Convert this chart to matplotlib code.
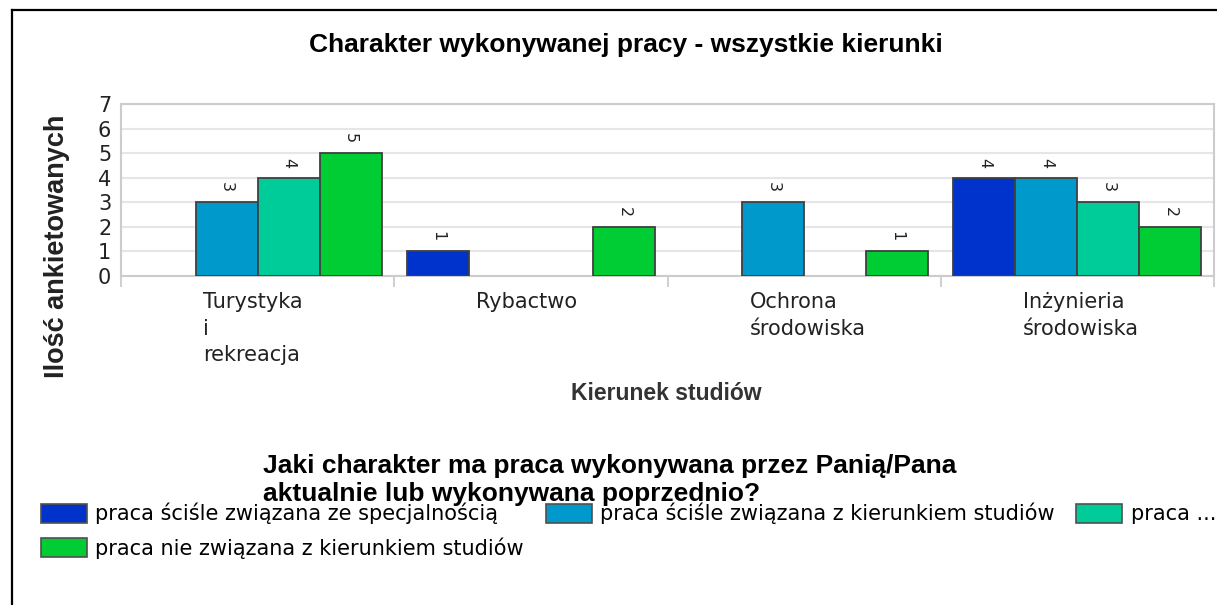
import numpy as np
import matplotlib
matplotlib.use("Agg")
import matplotlib.pyplot as plt
import matplotlib.transforms as mtransforms
from matplotlib.lines import Line2D
from matplotlib.patches import Patch

# ---- data ----
categories = ["Turystyka\ni\nrekreacja", "Rybactwo", "Ochrona\nśrodowiska",
              "Inżynieria\nśrodowiska"]
series_names = ["praca ściśle związana ze specjalnością",
                "praca ściśle związana z kierunkiem studiów",
                "praca ...",
                "praca nie związana z kierunkiem studiów"]
spec_vals = [0, 1, 0, 4]
kier_vals = [3, 0, 3, 4]
other_vals = [4, 0, 0, 3]
nie_vals = [5, 2, 1, 2]
y_ticks = [0, 1, 2, 3, 4, 5, 6, 7]

colors = ["#0033cc", "#0099cc", "#00cc99", "#00cc33"]
W, H = 1217, 605

fig = plt.figure(figsize=(W / 100, H / 100), dpi=100)
ax = fig.add_axes([121 / W, 1 - 276 / H, 1093 / W, 172 / H])

x = np.arange(len(categories))
bw = 0.227
all_vals = [spec_vals, kier_vals, other_vals, nie_vals]
for k, vals in enumerate(all_vals):
    vals = np.array(vals)
    xs = x + (k - 1.5) * bw
    keep = vals > 0   # empty slots get no bar and no label
    ax.bar(xs[keep], vals[keep], width=bw, color=colors[k],
           edgecolor="#404040", linewidth=1.3, zorder=3)
    for xi, v in zip(xs[keep], vals[keep]):
        ax.annotate(str(v), (xi, v), xytext=(0, 15), textcoords="offset pixels",
                    ha="center", va="center", rotation=270, fontsize=11.5,
                    color="#222222")

ax.set_xlim(-0.5, 3.5)
ax.set_ylim(0, 7)
ax.set_yticks(y_ticks)
ax.tick_params(axis="y", length=0, pad=7, labelsize=15, labelcolor="#222222")
ax.set_xticks(np.arange(-0.5, 4, 1.0))
ax.set_xticklabels([])
ax.tick_params(axis="x", length=8, width=1.3, color="#cccccc")
ax.grid(axis="y", color="#e6e6e6", linewidth=1.5, zorder=0)
for sp in ax.spines.values():
    sp.set_color("#cccccc")
    sp.set_linewidth(1.5)

# category labels, left aligned a bit left of the centre
trans = mtransforms.blended_transform_factory(ax.transData, fig.transFigure)
for i, lab in enumerate(categories):
    ax.text(i - 0.2, 1 - 292 / H, lab, transform=trans, ha="left", va="top",
            fontsize=15, color="#222222", linespacing=1.42)

fig.text(626 / W, 1 - 45 / H, "Charakter wykonywanej pracy - wszystkie kierunki",
         ha="center", va="center", fontsize=19, fontweight="bold",
         family="Liberation Sans")
fig.text(57 / W, 1 - 246 / H, "Ilość ankietowanych", rotation=90,
         ha="center", va="center", fontsize=19.5, fontweight="bold",
         family="Liberation Sans", color="#222222")
fig.text(666 / W, 1 - 393 / H, "Kierunek studiów", ha="center", va="center",
         fontsize=16.5, fontweight="bold", family="Liberation Sans",
         color="#333333")
fig.text(263 / W, 1 - 480 / H,
         "Jaki charakter ma praca wykonywana przez Panią/Pana\n"
         "aktualnie lub wykonywana poprzednio?",
         ha="left", va="center", fontsize=19, fontweight="bold",
         family="Liberation Sans", linespacing=1.17)

handles = [Patch(facecolor=c, edgecolor="#505050", linewidth=1.2) for c in colors]
order = [0, 3, 1, 2]   # row-major order: three on the first row, one below
fig.legend([handles[i] for i in order], [series_names[i] for i in order],
           ncol=3, loc="upper left", bbox_to_anchor=(41 / W, 1 - 503 / H),
           frameon=False, fontsize=15, handlelength=2.2, handleheight=1.05,
           handletextpad=0.4, columnspacing=1.05, labelspacing=0.62,
           borderpad=0, borderaxespad=0)

# black frame on the left and top edges
fig.add_artist(Line2D([12 / W, 12 / W], [0, 1 - 10 / H], color="black",
                      linewidth=1.6, transform=fig.transFigure))
fig.add_artist(Line2D([12 / W, 1], [1 - 10 / H, 1 - 10 / H], color="black",
                      linewidth=1.6, transform=fig.transFigure))

fig.savefig("out.png", dpi=100, facecolor="white")
